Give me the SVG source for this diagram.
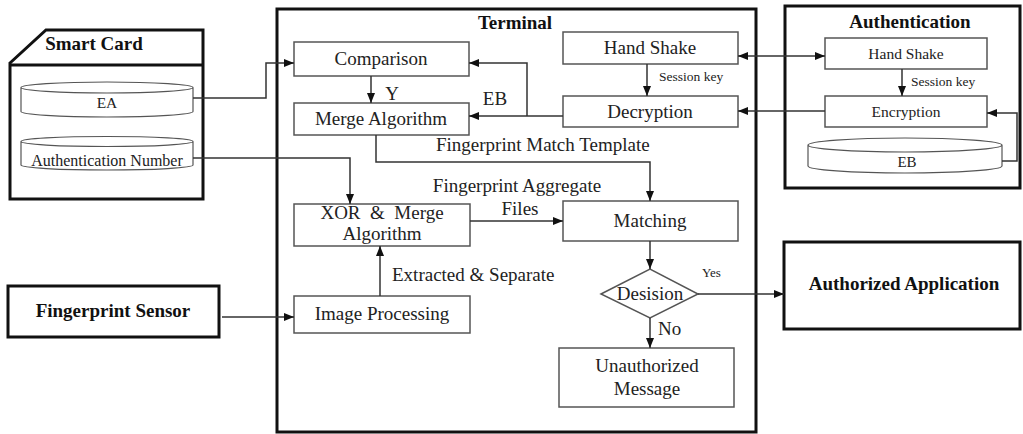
<svg xmlns="http://www.w3.org/2000/svg" width="1023" height="434" viewBox="0 0 1023 434">
<defs>
<marker id="ah" markerUnits="userSpaceOnUse" markerWidth="11" markerHeight="9" refX="10" refY="4" orient="auto-start-reverse"><path d="M0,0 L10,4 L0,8 Z" fill="#111"/></marker>
<style>
text{font-family:"Liberation Serif","Times New Roman",serif;fill:#222;text-anchor:middle}
.b{font-weight:bold;fill:#111}
.t19{font-size:19px}
.t15{font-size:15.5px}
.t13{font-size:13.5px}
.outer{fill:#fff;stroke:#111;stroke-width:3}
.box{fill:#fff;stroke:#555;stroke-width:1.5}
.cyl{fill:#fff;stroke:#555;stroke-width:1.2}
.c{fill:none;stroke:#333;stroke-width:1.5}
.a{marker-end:url(#ah)}
</style>
</defs>
<rect width="1023" height="434" fill="#fff"/>
<g id="terminal"><rect class="outer" x="277" y="9" width="479" height="423"/><text class="b t19" x="515" y="29">Terminal</text></g>
<g id="smart-card">
<path class="outer" d="M10,63 L46,30 H203 V199 H10 Z"/><path d="M10,65 H203" stroke="#111" stroke-width="3"/>
<text class="b t19" x="94" y="50">Smart Card</text>
</g>
<g id="ea"><path class="cyl" d="M21,87.5 V111.5 A86,5.5 0 0 0 193,111.5 V87.5 A86,5.5 0 0 0 21,87.5 A86,5.5 0 0 0 193,87.5"/><text class="t15" x="107" y="108">EA</text></g>
<g id="auth-number"><path class="cyl" d="M21,141.5 V165 A86,5 0 0 0 193,165 V141.5 A86,5 0 0 0 21,141.5 A86,5 0 0 0 193,141.5"/><text x="107" y="166" style="font-size:16px">Authentication Number</text></g>
<g id="authentication"><rect class="outer" x="785" y="6" width="235" height="182"/><text class="b t19" x="910" y="28">Authentication</text></g>
<g id="auth-handshake"><rect class="box" x="825" y="38" width="162" height="31"/><text class="t15" x="906" y="59">Hand Shake</text></g>
<g id="encryption"><rect class="box" x="825" y="96" width="162" height="31"/><text class="t15" x="906" y="117">Encryption</text></g>
<g id="eb"><path class="cyl" d="M808,145 V166 A97,7 0 0 0 1002,166 V145 A97,7 0 0 0 808,145 A97,7 0 0 0 1002,145"/><text x="907" y="167" style="font-size:15px">EB</text></g>
<g id="comparison"><rect class="box" x="294" y="42" width="175" height="34"/><text class="t19" x="381" y="65">Comparison</text></g>
<g id="merge"><rect class="box" x="294" y="103" width="175" height="32"/><text class="t19" x="381" y="125">Merge Algorithm</text></g>
<g id="handshake"><rect class="box" x="563" y="32" width="175" height="32"/><text class="t19" x="650" y="54">Hand Shake</text></g>
<g id="decryption"><rect class="box" x="563" y="96" width="175" height="31"/><text class="t19" x="650" y="118">Decryption</text></g>
<g id="xor"><rect class="box" x="294" y="204" width="176" height="42"/><text class="t19" x="382" y="219" xml:space="preserve">XOR  &amp;  Merge</text><text class="t19" x="382" y="240">Algorithm</text></g>
<g id="matching"><rect class="box" x="563" y="201" width="175" height="40"/><text class="t19" x="650" y="227">Matching</text></g>
<g id="decision"><path class="box" d="M601,294 L650,269 L698,294 L650,318 Z"/><text class="t19" x="650" y="300">Desision</text></g>
<g id="unauthorized"><rect class="box" x="559" y="348" width="175" height="59"/><text class="t19" x="647" y="372">Unauthorized</text><text class="t19" x="647" y="395">Message</text></g>
<g id="image-processing"><rect class="box" x="294" y="296" width="176" height="37"/><text class="t19" x="382" y="320">Image Processing</text></g>
<g id="fingerprint-sensor"><rect class="outer" x="8" y="286" width="211" height="51"/><text class="b t19" x="113" y="317">Fingerprint Sensor</text></g>
<g id="authorized-app"><rect class="outer" x="784" y="242" width="236" height="87"/><text class="b t19" x="904" y="290">Authorized Application</text></g>
<g id="connectors">
<path class="c a" d="M193,98 H266 V63 H294"/>
<path class="c a" d="M193,158 H350 V204"/>
<path class="c a" d="M371,76 V103"/>
<path class="c a" d="M563,116 H469"/>
<path class="c a" d="M527,116 V63 H469"/>
<path class="c a" d="M738,56 H825" style="marker-start:url(#ah)"/>
<path class="c a" d="M647,64 V96"/>
<path class="c a" d="M902,69 V96"/>
<path class="c a" d="M825,111 H738"/>
<path class="c a" d="M1002,161 H1017 V113 H987"/>
<path class="c a" d="M376,135 V162 H650 V201"/>
<path class="c a" d="M470,221 H563"/>
<path class="c a" d="M380,296 V246"/>
<path class="c a" d="M222,317 H294"/>
<path class="c a" d="M650,241 V269"/>
<path class="c a" d="M698,294 H784"/>
<path class="c a" d="M650,318 V348"/>
<text class="t19" x="392" y="100">Y</text>
<text class="t19" x="495" y="105">EB</text>
<text class="t13" x="659" y="81" style="text-anchor:start">Session key</text>
<text class="t13" x="911" y="86" style="text-anchor:start">Session key</text>
<text class="t19" x="436" y="151" style="text-anchor:start">Fingerprint Match Template</text>
<text class="t19" x="517" y="192">Fingerprint Aggregate</text>
<text class="t19" x="520" y="215">Files</text>
<text class="t19" x="392" y="281" style="text-anchor:start">Extracted &amp; Separate</text>
<text x="702" y="277" style="text-anchor:start;font-size:13px">Yes</text>
<text class="t19" x="658" y="335" style="text-anchor:start">No</text>
</g>
</svg>
